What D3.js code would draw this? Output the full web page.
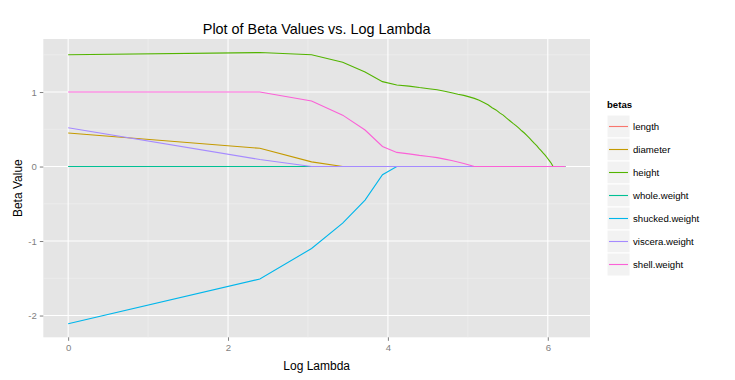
<!DOCTYPE html>
<html>
<head>
<meta charset="utf-8">
<script src="https://cdn.jsdelivr.net/npm/d3@7"></script>
<style>
  body { margin: 0; background: #fff; }
  text { font-family: "Liberation Sans", Arial, sans-serif; }
</style>
</head>
<body>
<svg id="chart" width="735" height="380"></svg>
<script>
// log(lambda) values of the lasso path
const logLambda = [0, 2.398, 3.045, 3.434, 3.714, 3.932, 4.111, 4.263, 4.394, 4.511,
  4.615, 4.710, 4.796, 4.875, 4.949, 5.017, 5.081, 5.142, 5.198, 5.252,
  5.303, 5.352, 5.398, 5.442, 5.485, 5.525, 5.565, 5.602, 5.638, 5.673,
  5.707, 5.740, 5.771, 5.802, 5.832, 5.861, 5.889, 5.916, 5.943, 5.969,
  5.994, 6.019, 6.043, 6.066, 6.089, 6.111, 6.133, 6.155, 6.176, 6.196, 6.217]

const betaNames = ['length', 'diameter', 'height', 'whole.weight', 'shucked.weight', 'viscera.weight', 'shell.weight']

const lengthVals = [0, 0, 0, 0, 0, 0, 0, 0, 0, 0, 0, 0, 0, 0, 0, 0, 0, 0, 0, 0, 0, 0, 0, 0, 0,
  0, 0, 0, 0, 0, 0, 0, 0, 0, 0, 0, 0, 0, 0, 0, 0, 0, 0, 0, 0, 0, 0, 0, 0, 0, 0]
const diameterVals = [0.45, 0.245, 0.063, 0, 0, 0, 0, 0, 0, 0, 0, 0, 0, 0, 0, 0, 0, 0, 0, 0, 0, 0, 0, 0, 0,
  0, 0, 0, 0, 0, 0, 0, 0, 0, 0, 0, 0, 0, 0, 0, 0, 0, 0, 0, 0, 0, 0, 0, 0, 0, 0]
const heightVals = [1.50, 1.53, 1.50, 1.40, 1.27, 1.14, 1.095, 1.08, 1.06, 1.045,
  1.03, 1.01, 0.99, 0.97, 0.955, 0.935, 0.915, 0.89, 0.86, 0.83,
  0.79, 0.76, 0.72, 0.69, 0.65, 0.615, 0.58, 0.55, 0.515, 0.48,
  0.45, 0.415, 0.38, 0.345, 0.31, 0.28, 0.245, 0.215, 0.18, 0.15,
  0.115, 0.08, 0.045, 0, 0, 0, 0, 0, 0, 0, 0]
const wholeVals = [0, 0, 0, 0, 0, 0, 0, 0, 0, 0, 0, 0, 0, 0, 0, 0, 0, 0, 0, 0, 0, 0, 0, 0, 0,
  0, 0, 0, 0, 0, 0, 0, 0, 0, 0, 0, 0, 0, 0, 0, 0, 0, 0, 0, 0, 0, 0, 0, 0, 0, 0]
const shuckedVals = [-2.11, -1.51, -1.10, -0.76, -0.45, -0.11, 0, 0, 0, 0, 0, 0, 0, 0, 0, 0, 0, 0, 0, 0, 0, 0, 0, 0, 0,
  0, 0, 0, 0, 0, 0, 0, 0, 0, 0, 0, 0, 0, 0, 0, 0, 0, 0, 0, 0, 0, 0, 0, 0, 0, 0]
const visceraVals = [0.52, 0.095, 0, 0, 0, 0, 0, 0, 0, 0, 0, 0, 0, 0, 0, 0, 0, 0, 0, 0, 0, 0, 0, 0, 0,
  0, 0, 0, 0, 0, 0, 0, 0, 0, 0, 0, 0, 0, 0, 0, 0, 0, 0, 0, 0, 0, 0, 0, 0, 0, 0]
const shellVals = [1.00, 1.00, 0.88, 0.69, 0.49, 0.27, 0.19, 0.17, 0.15, 0.135,
  0.12, 0.10, 0.08, 0.06, 0.04, 0.02, 0, 0, 0, 0, 0, 0, 0, 0, 0,
  0, 0, 0, 0, 0, 0, 0, 0, 0, 0, 0, 0, 0, 0, 0, 0, 0, 0, 0, 0, 0, 0, 0, 0, 0, 0]

const xTicks = [0, 2, 4, 6]
const yTicks = [-2, -1, 0, 1]

const seriesVals = [lengthVals, diameterVals, heightVals, wholeVals, shuckedVals, visceraVals, shellVals]
const series = betaNames.map((name, i) => ({
  name,
  points: logLambda.map((x, j) => ({ x, y: seriesVals[i][j] }))
}))

const hueColors = ['#F8766D', '#C49A00', '#53B400', '#00C094', '#00B6EB', '#A58AFF', '#FB61D7']
const color = d3.scaleOrdinal().domain(betaNames).range(hueColors)

const panel = { left: 43.3, right: 590, top: 39, bottom: 337.3 }

// ggplot style 5% expansion
const expand = ext => {
  const pad = (ext[1] - ext[0]) * 0.05
  return [ext[0] - pad, ext[1] + pad]
}
const allY = seriesVals.flat()

const x = d3.scaleLinear()
  .domain(expand(d3.extent(logLambda)))
  .range([panel.left, panel.right])
const y = d3.scaleLinear()
  .domain(expand(d3.extent(allY)))
  .range([panel.bottom, panel.top])

const svg = d3.select('#chart')

svg.append('rect')
  .attr('x', panel.left)
  .attr('y', panel.top)
  .attr('width', panel.right - panel.left)
  .attr('height', panel.bottom - panel.top)
  .attr('fill', '#E5E5E5')

// minor grid
const xMinor = [1, 3, 5]
const yMinor = [-1.5, -0.5, 0.5, 1.5]
const grid = svg.append('g')

grid.selectAll('.xminor')
  .data(xMinor)
  .join('line')
  .attr('x1', d => x(d)).attr('x2', d => x(d))
  .attr('y1', panel.top).attr('y2', panel.bottom)
  .attr('stroke', '#F2F2F2').attr('stroke-width', 0.55)
grid.selectAll('.yminor')
  .data(yMinor)
  .join('line')
  .attr('y1', d => y(d)).attr('y2', d => y(d))
  .attr('x1', panel.left).attr('x2', panel.right)
  .attr('stroke', '#F2F2F2').attr('stroke-width', 0.55)

// major grid
grid.selectAll('.xmajor')
  .data(xTicks)
  .join('line')
  .attr('x1', d => x(d)).attr('x2', d => x(d))
  .attr('y1', panel.top).attr('y2', panel.bottom)
  .attr('stroke', '#fff').attr('stroke-width', 1.1)
grid.selectAll('.ymajor')
  .data(yTicks)
  .join('line')
  .attr('y1', d => y(d)).attr('y2', d => y(d))
  .attr('x1', panel.left).attr('x2', panel.right)
  .attr('stroke', '#fff').attr('stroke-width', 1.1)

const line = d3.line()
  .x(d => x(d.x))
  .y(d => y(d.y))

svg.append('g')
  .selectAll('path')
  .data(series)
  .join('path')
  .attr('d', d => line(d.points))
  .attr('fill', 'none')
  .attr('stroke', d => color(d.name))
  .attr('stroke-width', 1.1)

// axes
const xAxis = svg.append('g')
  .attr('transform', `translate(0,${panel.bottom})`)
  .call(d3.axisBottom(x).tickValues(xTicks).tickSize(3.5).tickPadding(3).tickFormat(d3.format('d')))
const yAxis = svg.append('g')
  .attr('transform', `translate(${panel.left},0)`)
  .call(d3.axisLeft(y).tickValues(yTicks).tickSize(3.5).tickPadding(3).tickFormat(d3.format('d')))

;[xAxis, yAxis].forEach(ax => {
  ax.select('.domain').remove()
  ax.selectAll('.tick line').attr('stroke', '#7F7F7F')
  ax.selectAll('.tick text')
    .attr('fill', '#7F7F7F')
    .attr('font-size', 9.6)
    .attr('font-family', '"Liberation Sans", Arial, sans-serif')
})
yAxis.selectAll('.tick text').text(d => d < 0 ? '-' + Math.abs(d) : d)

// titles
svg.append('text')
  .attr('x', (panel.left + panel.right) / 2)
  .attr('y', 34)
  .attr('text-anchor', 'middle')
  .attr('font-size', 14.4)
  .text('Plot of Beta Values vs. Log Lambda')

svg.append('text')
  .attr('x', (panel.left + panel.right) / 2)
  .attr('y', 370)
  .attr('text-anchor', 'middle')
  .attr('font-size', 12)
  .text('Log Lambda')

svg.append('text')
  .attr('transform', `translate(22,${(panel.top + panel.bottom) / 2}) rotate(-90)`)
  .attr('text-anchor', 'middle')
  .attr('font-size', 12)
  .text('Beta Value')

// legend
const legend = svg.append('g')
  .attr('transform', 'translate(607,115)')

legend.append('text')
  .attr('x', 0)
  .attr('y', -7)
  .attr('font-size', 9.6)
  .attr('font-weight', 'bold')
  .text('betas')

const keyH = 23
const items = legend.selectAll('.item')
  .data(betaNames)
  .join('g')
  .attr('transform', (d, i) => `translate(0,${i * keyH})`)

items.append('rect')
  .attr('width', 23)
  .attr('height', keyH)
  .attr('fill', '#F2F2F2')
  .attr('stroke', '#fff')
  .attr('stroke-width', 1)

items.append('line')
  .attr('x1', 2).attr('x2', 21)
  .attr('y1', keyH / 2).attr('y2', keyH / 2)
  .attr('stroke', d => color(d))
  .attr('stroke-width', 1.1)

items.append('text')
  .attr('x', 26)
  .attr('y', keyH / 2 + 3.5)
  .attr('font-size', 9.6)
  .text(d => d)
</script>
</body>
</html>
